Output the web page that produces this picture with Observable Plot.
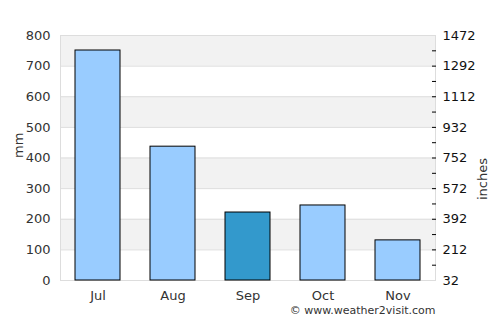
<!DOCTYPE html>
<html><head><meta charset="utf-8">
<script src="https://cdn.jsdelivr.net/npm/d3@7"></script>
<script src="https://cdn.jsdelivr.net/npm/@observablehq/plot@0.6"></script>
<style>body{margin:0;background:#fff;font-family:"DejaVu Sans",sans-serif}</style>
</head><body><div id="chart"></div>
<script>
const months = ["Jul","Aug","Sep","Oct","Nov"];
const rainfall = [751, 437, 222, 245, 131];
const highlight = ["Sep"];
const leftTicks = [0,100,200,300,400,500,600,700,800];
const rightTickMarks = [50,100,150,200,250,300,350,400,450,500,550,600,650,700,750];
const bandStarts = [100,300,500,700];

const data = months.map((m,i)=>({month:m, value:rainfall[i]}));
const bands = bandStarts.map(b=>({y1:b, y2:b+100}));

const chart = Plot.plot({
  width: 500, height: 325,
  marginLeft: 60, marginRight: 65, marginTop: 35, marginBottom: 45,
  style: {fontFamily: '"DejaVu Sans", sans-serif', fontSize: "13px", color: "#333", background: "#fff"},
  x: {domain: months, paddingInner: 0.4, paddingOuter: 0.2, label: null},
  y: {domain: [0, 800], label: null},
  marks: [
    Plot.rect(bands, {y1: "y1", y2: "y2", fill: "#f2f2f2"}),
    Plot.ruleY(leftTicks, {stroke: "#ddd"}),
    Plot.frame({stroke: "#ddd"}),
    Plot.barY(data, {x: "month", y: "value", fill: d => highlight.includes(d.month) ? "#3399cc" : "#99ccff", stroke: "#000", strokeWidth: 1}),
    Plot.axisX({tickSize: 0, tickPadding: 10, fontSize: 13, fill: "#333", label: null}),
    Plot.axisY({ticks: leftTicks, tickSize: 0, tickPadding: 10, fontSize: 13, fill: "#333", label: null}),
    Plot.axisY({anchor: "right", ticks: leftTicks, tickFormat: d => String(Math.round(d*1.8+32)), tickSize: 0, tickPadding: 7, fontSize: 13, fill: "#111", label: null}),
    Plot.axisY({anchor: "right", ticks: rightTickMarks, tickFormat: () => "", tickSize: -4, stroke: "#000", label: null}),
    Plot.text(["mm"], {frameAnchor: "left", dx: -42, rotate: -90, fontSize: 13, fill: "#333"}),
    Plot.text(["inches"], {frameAnchor: "right", dx: 47, rotate: -90, fontSize: 13, fill: "#333"}),
    Plot.text(["© www.weather2visit.com"], {frameAnchor: "bottom-right", textAnchor: "end", dy: 33, fontSize: 11, fill: "#333"})
  ]
});
document.getElementById("chart").appendChild(chart);
</script>
</body></html>
